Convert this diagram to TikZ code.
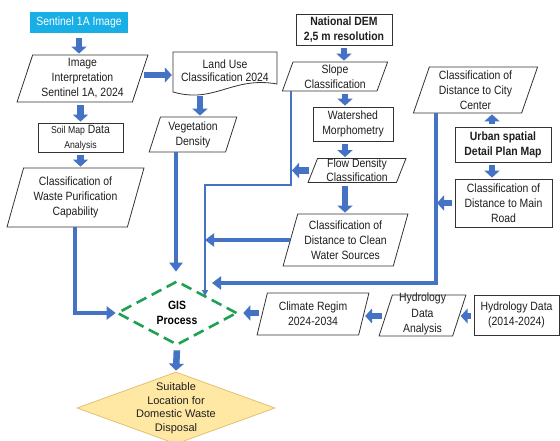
\documentclass[tikz,border=0pt]{standalone}
\usepackage{fontspec}
\setmainfont{Liberation Sans}[FakeStretch=0.87]
\newfontfamily\widefont{Liberation Sans}
\usetikzlibrary{shapes.geometric,arrows.meta}
\definecolor{ablue}{HTML}{4472C4}
\definecolor{cyanbox}{HTML}{18AEE6}
\definecolor{gisgreen}{HTML}{1FA055}
\definecolor{suitfill}{HTML}{FFE8A3}
\definecolor{suitdraw}{HTML}{E0C370}
\tikzset{
  txt/.style={align=center, inner sep=0pt, text=black!88, font=\fontsize{12}{15}\selectfont},
  box/.style={txt, draw=black!80, line width=0.8pt},
  rbox/.style={box, rectangle},
  para/.style={box, trapezium, trapezium left angle=72, trapezium right angle=108, trapezium stretches=true},
  barrow/.style={draw=ablue, line width=6.5pt, -{Triangle[length=7pt,width=15pt]}, shorten <=3pt, shorten >=1pt},
  tline/.style={draw=ablue, line width=4pt, -{Triangle[length=9pt,width=13pt]}},
  thinl/.style={draw=ablue, line width=1.3pt, -{Triangle[length=6pt,width=6pt]}}
}
\begin{document}
\begin{tikzpicture}[x=1pt,y=-1pt]
\useasboundingbox (0,0) rectangle (560,441);
\fill[white] (0,0) rectangle (560,441);

% left column
\node[txt, fill=cyanbox, text=white, minimum width=98pt, minimum height=21pt] (sent) at (79,22.5) {Sentinel 1A Image};
\node[para, minimum width=131pt, minimum height=47pt] (interp) at (82.5,78.5) {Image\\Interpretation\\Sentinel 1A, 2024};
\node[txt, minimum width=104pt, minimum height=41pt] (landuse) at (225,72.5) {\raisebox{3pt}{\shortstack{Land Use\\[1pt]Classification 2024}}};
\draw[black!80, line width=0.8pt] (173,52) -- (277,52) -- (277,84) .. controls (232,76) and (215,104) .. (173,92) -- cycle;
\node[para, minimum width=88pt, minimum height=35pt] (veg) at (193,134.5) {Vegetation\\Density};
\node[rbox, minimum width=85pt, minimum height=29pt] (soil) at (80.5,137.5) {{\fontsize{10}{12}\selectfont Soil Map} Data\\{\fontsize{10}{12}\selectfont Analysis}};
\node[para, minimum width=137pt, minimum height=59pt] (waste) at (75.5,197.5) {Classification of\\Waste Purification\\Capability};

% GIS and result
\node[diamond, draw=gisgreen, line width=2.6pt, dash pattern=on 11pt off 6pt, minimum width=120pt, minimum height=64pt, inner sep=0pt, align=center, font=\fontsize{12}{15}\selectfont\bfseries] (gis) at (177,313) {GIS\\Process};
\node[diamond, fill=suitfill, draw=suitdraw, line width=0.8pt, minimum width=198pt, minimum height=72pt, inner sep=0pt] (suit) at (176,408) {\strut};
\node[txt, font=\widefont\fontsize{11}{13.5}\selectfont] (suittxt) at (176,408) {Suitable\\Location for\\Domestic Waste\\Disposal};

% middle column
\node[rbox, minimum width=96pt, minimum height=31pt, font=\fontsize{12}{15}\selectfont\bfseries] (dem) at (344,29.5) {National DEM\\2,5 m resolution};
\node[para, minimum width=106pt, minimum height=29pt] (slope) at (335,76.5) {Slope\\Classification};
\node[rbox, minimum width=80pt, minimum height=34pt] (water) at (353,124) {Watershed\\Morphometry};
\node[para, minimum width=98pt, minimum height=24pt, font=\fontsize{12}{14}\selectfont] (flow) at (357,170.5) {Flow Density\\Classification};
\node[para, minimum width=125pt, minimum height=52pt] (clean) at (345.5,240) {Classification of\\Distance to Clean\\Water Sources};

% right column
\node[para, minimum width=125pt, minimum height=46pt] (city) at (475.5,90) {Classification of\\Distance to City\\Center};
\node[rbox, minimum width=96pt, minimum height=35pt, font=\fontsize{12}{15}\selectfont\bfseries] (urban) at (503,144.5) {Urban spatial\\Detail Plan Map};
\node[rbox, minimum width=97pt, minimum height=48pt] (road) at (503.5,203) {Classification of\\Distance to Main\\Road};

% bottom row
\node[para, minimum width=112pt, minimum height=42pt] (climate) at (313,314) {Climate Regim\\2024-2034};
\node[para, minimum width=87pt, minimum height=41pt] (hana) at (422.5,315.5) {\hphantom{Data}\strut};
\node[txt, font=\fontsize{12}{15.5}\selectfont] (hanatxt) at (422.5,314) {Hydrology\\Data\\Analysis};
\node[rbox, minimum width=85pt, minimum height=40pt] (hdata) at (516.5,315) {Hydrology Data\\(2014-2024)};

% helper coordinates
\coordinate (cx) at (345,0);
\coordinate (ux) at (492,0);
\coordinate (lx) at (200,0);
\coordinate (ly) at (0,75);
\coordinate (hy) at (0,316);
\coordinate (ta) at (291,0);
\coordinate (tb) at (205,185);
\coordinate (tc) at (205,296);
\coordinate (fc) at (436,283);
\coordinate (fe) at (212,283);
\coordinate (wc) at (75,313);
\coordinate (vx) at (176,0);

% block arrows
\draw[barrow, shorten <=5pt] (sent.south) -- (sent.south |- interp.north);
\draw[barrow] (interp.east |- ly) -- (landuse.west |- ly);
\draw[barrow] (lx |- landuse.south) -- (lx |- veg.north);
\draw[barrow] (interp.south -| soil.north) -- (soil.north);
\draw[barrow] (soil.south) -- (soil.south |- waste.north);
\draw[barrow] (dem.south) -- (dem.south |- slope.north);
\draw[barrow] (cx |- slope.south) -- (cx |- water.north);
\draw[barrow] (cx |- water.south) -- (cx |- flow.north);
\draw[barrow] (cx |- flow.south) -- (cx |- clean.north);
\draw[barrow] (flow.west) -- (flow.west -| ta);
\draw[barrow] (ux |- urban.north) -- (ux |- city.south);
\draw[barrow] (ux |- urban.south) -- (ux |- road.north);
\draw[barrow] (road.west) -- (road.west -| fc);
\draw[barrow, shorten >=5pt] (climate.west |- gis.east) -- (gis.east);
\draw[barrow] (hana.west |- hy) -- (climate.east |- hy);
\draw[barrow] (hdata.west |- hy) -- (hana.east |- hy);
\draw[barrow, shorten <=4pt] (gis.south) -- (suit.north);

% long connectors
\draw[tline] (waste.south -| wc) -- (wc) -- (gis.west);
\draw[tline, shorten >=8pt] (vx |- veg.south) -- (vx |- gis.north);
\draw[tline] (clean.west) -- (clean.west -| tb);
\draw[tline] (fc |- city.south) -- (fc) -- (fe);
\draw[thinl] (ta |- slope.south) -- (ta |- tb) -- (tb) -- (tc);
\end{tikzpicture}
\end{document}
